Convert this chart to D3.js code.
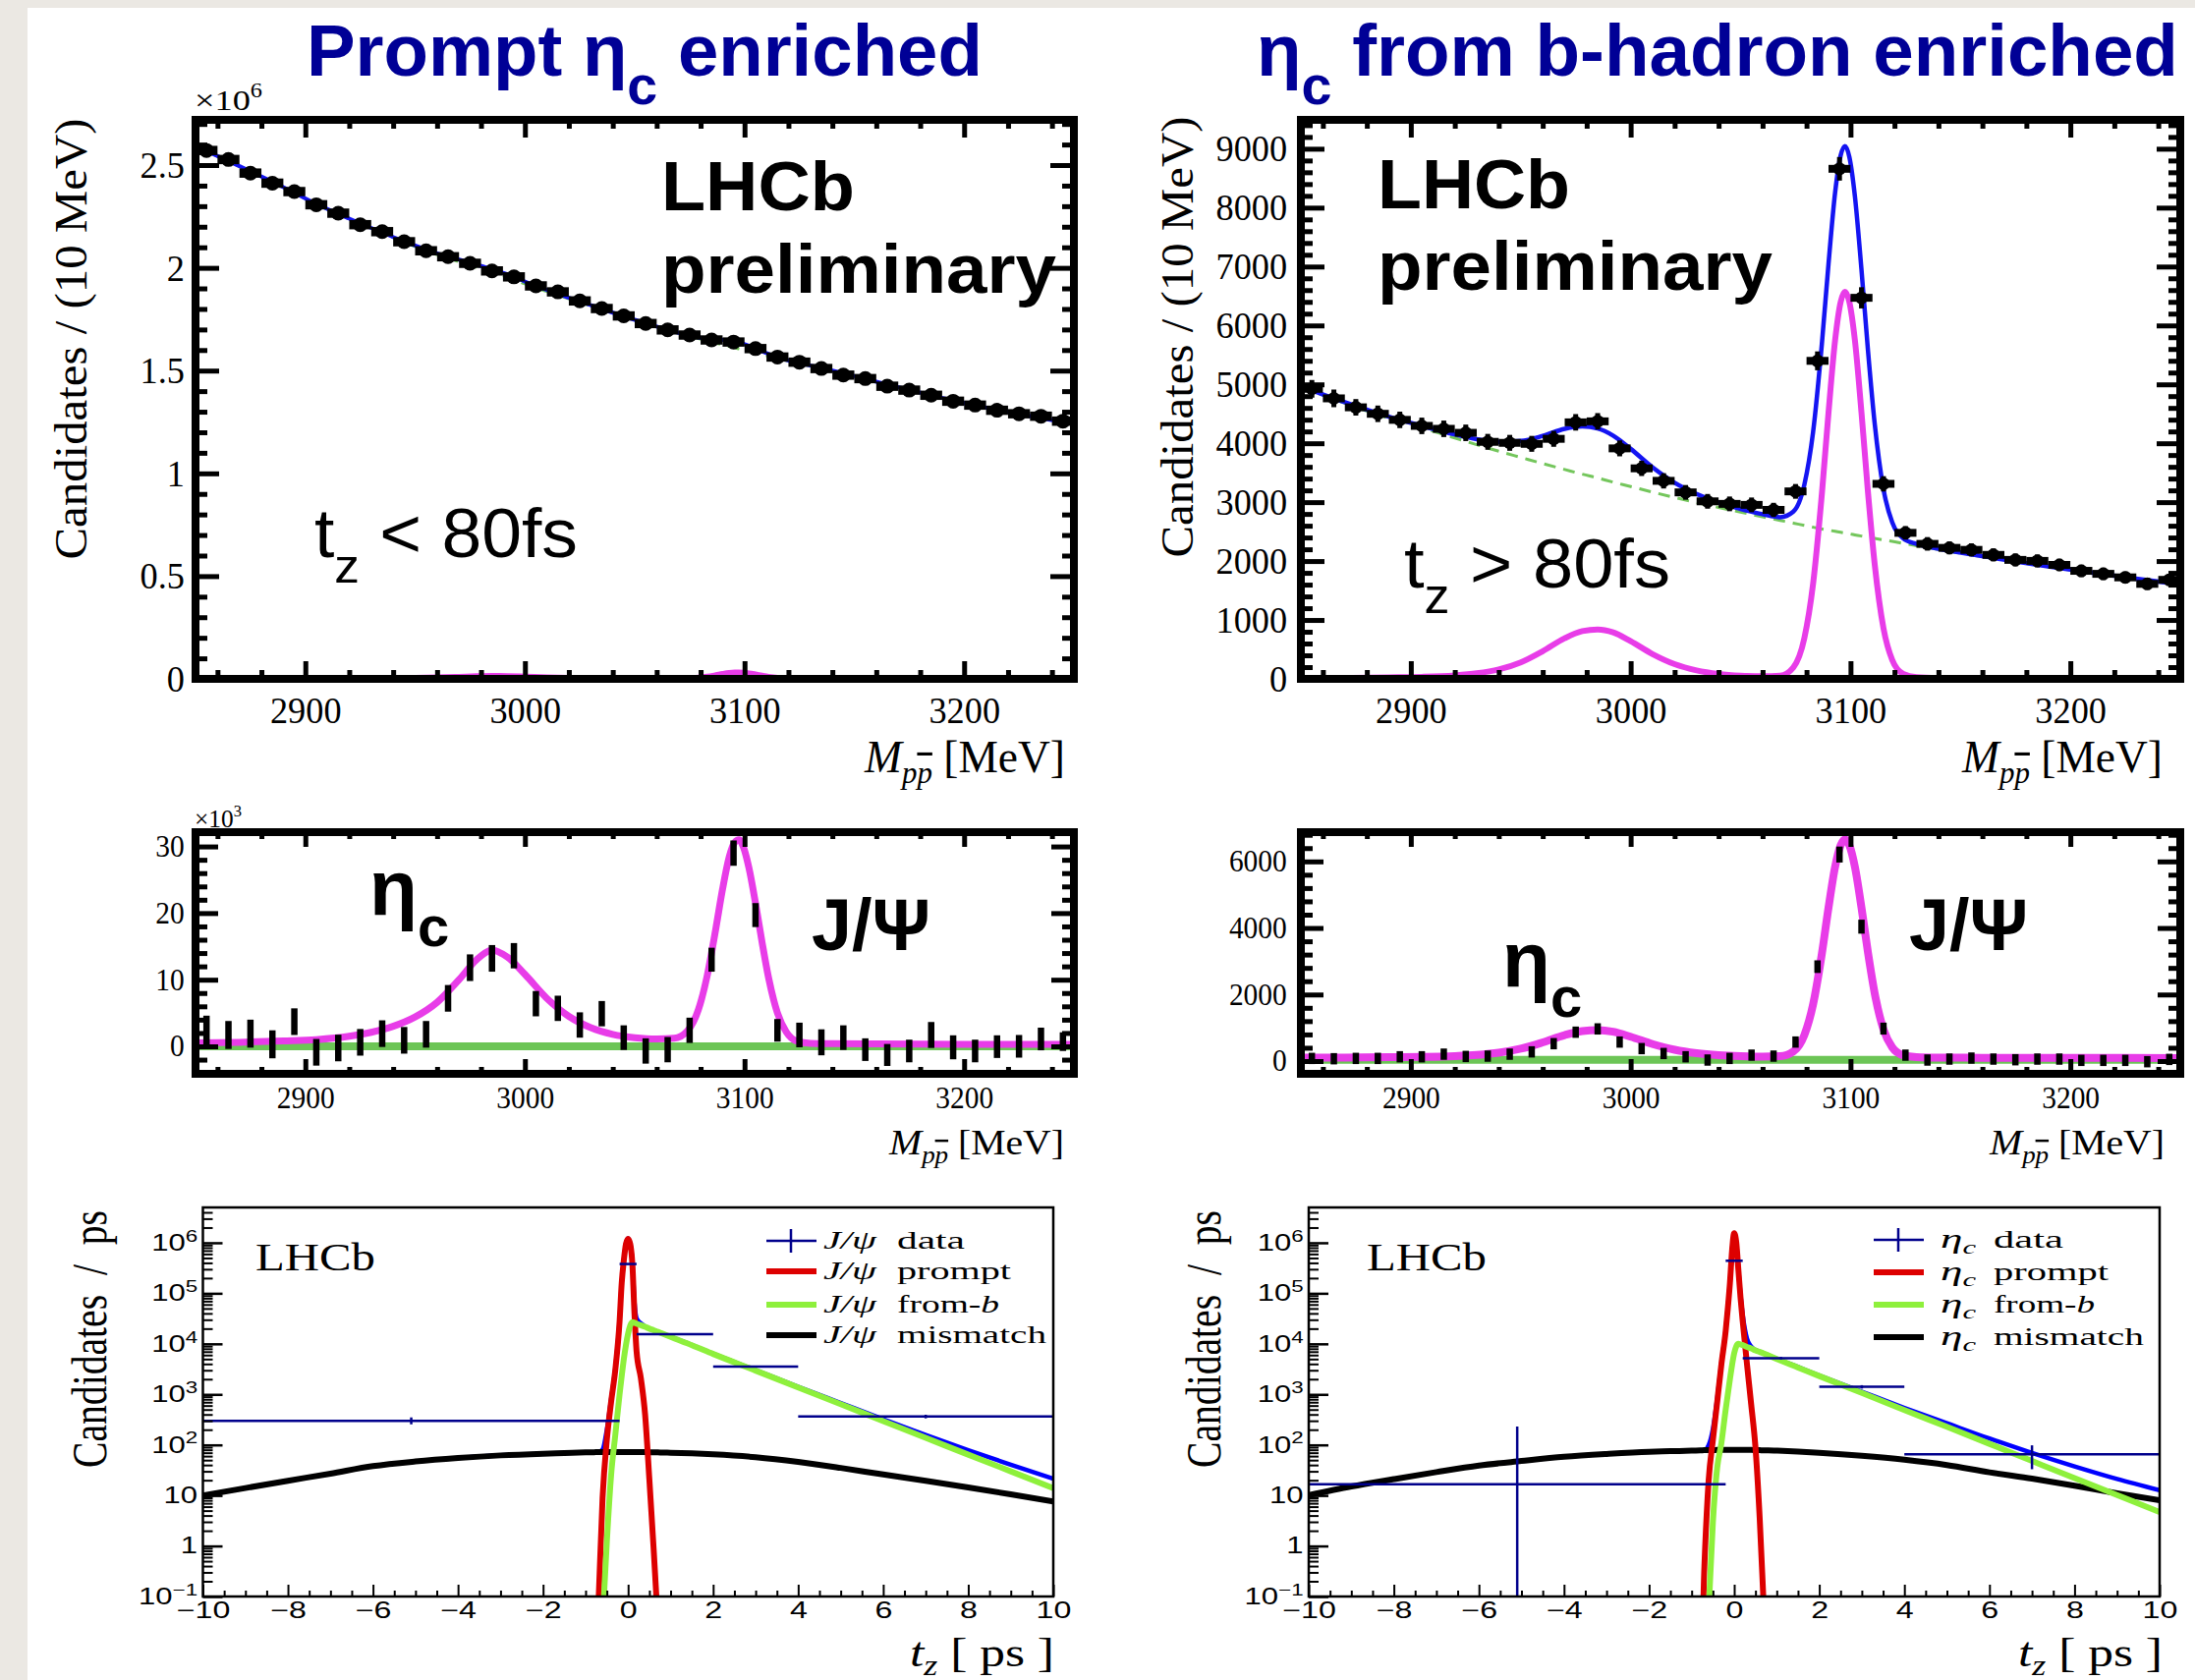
<!DOCTYPE html>
<html>
<head>
<meta charset="utf-8">
<script src="https://cdn.jsdelivr.net/npm/d3@7"></script>
<style>
  html, body { margin: 0; padding: 0; background: #ffffff; }
  svg { display: block; }
</style>
</head>
<body>
<svg id="chart" width="2234" height="1710"></svg>
<script>
// ===================== DATA =====================

// p-pbar invariant mass, 10 MeV bin centres
const massCenters = [2855, 2865, 2875, 2885, 2895, 2905, 2915, 2925, 2935, 2945,
  2955, 2965, 2975, 2985, 2995, 3005, 3015, 3025, 3035, 3045,
  3055, 3065, 3075, 3085, 3095, 3105, 3115, 3125, 3135, 3145,
  3155, 3165, 3175, 3185, 3195, 3205, 3215, 3225, 3235, 3245];

// prompt-enriched sample (t_z < 80 fs), candidates ×10^6
const promptCounts = [2.571, 2.527, 2.461, 2.412, 2.371, 2.307, 2.266, 2.210, 2.176, 2.127,
  2.083, 2.054, 2.022, 1.985, 1.956, 1.912, 1.883, 1.839, 1.802, 1.766,
  1.729, 1.698, 1.673, 1.649, 1.639, 1.607, 1.566, 1.541, 1.510, 1.478,
  1.461, 1.424, 1.405, 1.380, 1.351, 1.332, 1.307, 1.290, 1.278, 1.254];

// b-hadron-enriched sample (t_z > 80 fs), candidates
const fromBCounts = [4924, 4762, 4610, 4500, 4397, 4295, 4245, 4177, 4024, 4007,
  3990, 4075, 4355, 4372, 3913, 3574, 3362, 3166, 3014, 2971,
  2954, 2869, 3183, 5399, 8659, 6469, 3311, 2479, 2292, 2224,
  2190, 2105, 2020, 2003, 1935, 1834, 1783, 1723, 1613, 1681];
const fromBErrors = [150, 150, 140, 140, 140, 140, 140, 140, 135, 135,
  135, 135, 140, 140, 135, 130, 130, 125, 125, 125,
  125, 120, 125, 160, 200, 180, 130, 115, 115, 110,
  110, 110, 110, 110, 105, 105, 105, 100, 100, 100];

// background-subtracted yields, prompt sample (×10^3)
const promptSigData = [2.2, 1.7, 1.9, 0.3, 3.7, -0.9, -0.25, 0.6, 1.9, 0.9,
  1.8, 7.2, 11.8, 13.2, 13.6, 6.4, 5.7, 3.2, 4.9, 1.3,
  -0.7, -0.5, 2.4, 13.0, 29.0, 19.7, 2.4, 1.7, 0.6, 1.3,
  -0.5, -1.3, -0.7, 1.7, -0.15, -0.7, -0.05, 0.0, 1.1, 0.7];
const promptSigErr = [2.4, 2.1, 2.1, 2.1, 2.0, 2.0, 2.0, 2.0, 2.0, 2.0,
  2.0, 2.0, 2.0, 2.0, 1.9, 1.9, 1.9, 1.9, 1.9, 1.85,
  1.9, 1.9, 1.9, 1.8, 1.9, 1.8, 1.7, 1.85, 1.95, 1.85,
  1.7, 1.65, 1.7, 1.95, 1.8, 1.7, 1.7, 1.7, 1.7, 1.4];

// background-subtracted yields, b-hadron sample
const fromBSigData = [79, 69, 79, 79, 128, 128, 207, 138, 148, 207,
  276, 522, 867, 966, 571, 374, 227, 128, 30, 79,
  177, 148, 571, 2837, 6207, 4039, 975, 177, 30, 59,
  89, 59, 39, 59, 59, 20, 20, 20, -20, 49];
const fromBSigErr = [170, 170, 170, 170, 170, 170, 170, 170, 170, 170,
  170, 170, 170, 170, 170, 170, 170, 170, 170, 170,
  170, 170, 170, 190, 240, 210, 180, 170, 170, 170,
  170, 170, 170, 170, 170, 170, 170, 170, 170, 170];

// fit model sampled along the mass axis
const massGrid = [2850, 2870, 2890, 2905, 2920, 2930, 2940, 2950, 2960, 2970,
  2978, 2985, 2992, 3000, 3010, 3020, 3030, 3040, 3050, 3060,
  3068, 3074, 3079, 3083, 3087, 3090, 3093, 3095.5, 3097.5, 3099.5,
  3102, 3105, 3108, 3111, 3115, 3119, 3124, 3130, 3140, 3160, 3200, 3250];
// prompt sample combinatorial background (×10^6)
const promptBkgFit = [2.592, 2.494, 2.392, 2.310, 2.238, 2.192, 2.147, 2.104, 2.064, 2.030,
  2.003, 1.978, 1.955, 1.922, 1.885, 1.850, 1.815, 1.780, 1.746, 1.713,
  1.688, 1.670, 1.656, 1.645, 1.634, 1.626, 1.618, 1.611, 1.606, 1.601,
  1.594, 1.586, 1.578, 1.570, 1.560, 1.550, 1.538, 1.524, 1.500, 1.446, 1.342, 1.240];
// prompt sample eta_c + J/psi signal (×10^3)
const promptSigFit = [0.5, 0.6, 0.8, 1.0, 1.5, 2.1, 3.0, 4.4, 6.6, 10.0,
  13.0, 14.4, 13.4, 10.8, 7.2, 4.5, 2.8, 1.8, 1.3, 1.1,
  1.2, 2.3, 5.5, 10.6, 17.8, 23.6, 28.4, 30.6, 31.0, 29.9,
  26.8, 21.5, 15.6, 10.2, 5.0, 2.15, 0.75, 0.45, 0.4, 0.35, 0.3, 0.3];
// b-hadron sample background and signal
const fromBBkgFit = [4960, 4680, 4425, 4260, 4090, 3975, 3865, 3760, 3655, 3555,
  3475, 3410, 3340, 3265, 3170, 3080, 2995, 2910, 2830, 2750,
  2690, 2645, 2605, 2575, 2545, 2525, 2505, 2488, 2475, 2462,
  2445, 2425, 2405, 2385, 2360, 2335, 2300, 2260, 2195, 2075, 1850, 1600];
const fromBSigFit = [10, 15, 25, 35, 60, 95, 160, 280, 470, 690,
  810, 840, 790, 640, 420, 250, 145, 85, 55, 45,
  55, 195, 690, 1620, 3150, 4520, 5750, 6395, 6570, 6395,
  5750, 4520, 3150, 1950, 860, 320, 85, 30, 15, 8, 4, 2];
const fromBResidual = 90;   // residual level under the b-hadron sWeighted fit
const fromBResidualLine = 40;

// pseudo decay time t_z [ps] model components
const tGrid = [-10, -9, -8, -7, -6, -5, -4, -3, -2, -1.5, -1,
  -0.8, -0.7, -0.6, -0.5, -0.4, -0.3, -0.2, -0.15, -0.1, -0.05, 0,
  0.05, 0.1, 0.15, 0.2, 0.3, 0.4, 0.5, 0.6, 0.7, 0.8,
  1, 1.5, 2, 3, 4, 5, 6, 7, 8, 9, 10];
const jpsiPrompt = [0, 0, 0, 0, 0, 0, 0, 0, 0, 0, 0,
  0.001, 0.06, 9, 126, 700, 3100, 2.8e4, 1.6e5, 4.5e5, 9.5e5, 1.2e6,
  9.5e5, 3.9e5, 4e4, 7000, 2100, 400, 21, 0.9, 0.03, 0.001,
  0, 0, 0, 0, 0, 0, 0, 0, 0, 0, 0];
const jpsiFromB = [0, 0, 0, 0, 0, 0, 0, 0, 0, 0, 0,
  0, 0, 0.03, 1.2, 25, 160, 1000, 2300, 5000, 9500, 1.6e4,
  2.3e4, 2.7e4, 2.63e4, 2.5e4, 2.34e4, 2.17e4, 2.0e4, 1.86e4, 1.73e4, 1.6e4,
  1.37e4, 9400, 6300, 2950, 1370, 640, 296, 138, 64, 30, 13.9];
const jpsiMismatch = [10, 14, 19.5, 27, 38, 47, 55, 62, 67, 69, 71,
  71.5, 72, 72, 72, 72, 72, 72, 72, 72, 72, 72,
  72, 72, 72, 72, 72, 71.8, 71.5, 71.2, 71, 70.5,
  70, 68, 65, 57, 46, 35, 26, 19.5, 14.4, 10.5, 7.6];
const etacPrompt = [0, 0, 0, 0, 0, 0, 0, 0, 0, 0, 0,
  0.001, 0.4, 20, 126, 700, 4000, 1.8e4, 5e4, 1.6e5, 7e5, 1.55e6,
  1e6, 2.8e5, 8e4, 2.8e4, 4000, 630, 90, 3.5, 0.05, 0.001,
  0, 0, 0, 0, 0, 0, 0, 0, 0, 0, 0];
const etacFromB = [0, 0, 0, 0, 0, 0, 0, 0, 0, 0, 0,
  0, 0, 0.05, 3, 35, 110, 500, 1000, 2000, 3800, 6500,
  9000, 1e4, 9700, 9400, 8700, 8100, 7400, 6900, 6400, 5900,
  5000, 3400, 2300, 1070, 490, 228, 105, 48, 22, 10.2, 4.7];
const etacMismatch = [10.1, 15, 21, 29, 39, 48, 58, 66, 73, 75, 77,
  78, 78.5, 79, 79, 79.5, 79.5, 80, 80, 80, 80, 80,
  80, 80, 80, 80, 79.5, 79.5, 79, 78.5, 78, 78,
  77, 74, 70, 61, 51, 40, 28.6, 21.5, 15.6, 11, 8];

// t_z data bins
const tBinLo = [-10, -0.2, 0.2, 2, 4];
const tBinHi = [-0.2, 0.2, 2, 4, 10];
const jpsiTData = [300, 3.8e5, 1.56e4, 3550, 365];
const jpsiTLo = [255, 3.7e5, 1.52e4, 3400, 335];
const jpsiTHi = [350, 3.9e5, 1.6e4, 3700, 395];
const etacTData = [16.6, 4.4e5, 5200, 1410, 65];
const etacTLo = [0.001, 4.3e5, 4900, 1300, 33];
const etacTHi = [230, 4.5e5, 5500, 1520, 98];

// axis tick values
const massTicks = [2900, 3000, 3100, 3200];
const promptYTicks = [0, 0.5, 1, 1.5, 2, 2.5];
const fromBYTicks = [0, 1000, 2000, 3000, 4000, 5000, 6000, 7000, 8000, 9000];
const promptSigTicks = [0, 10, 20, 30];
const fromBSigTicks = [0, 2000, 4000, 6000];
const tzTicks = [-10, -8, -6, -4, -2, 0, 2, 4, 6, 8, 10];
const logTicks = [0.1, 1, 10, 100, 1e3, 1e4, 1e5, 1e6];

// legend entries
const legendWords = ['data', 'prompt', 'from-', 'mismatch'];

// ===================== STYLE =====================
const SERIF = "'Liberation Serif','Times New Roman',Times,serif";
const SANS = "'Liberation Sans',Arial,Helvetica,sans-serif";
const TITLE_BLUE = '#000096';
const MAGENTA = '#e83ce8';
const FIT_BLUE = '#1414f2';
const GREEN_DASH = '#74c65c';
const GREEN_RES = '#6cc556';
const RED = '#dd0000';
const LIME = '#8ef03c';
const NAVY = '#00008c';

const svg = d3.select('#chart');

// page: grey slide margin on the left and top
svg.append('rect').attr('width', 2234).attr('height', 1710).attr('fill', '#ebe8e3');
svg.append('rect').attr('x', 28).attr('y', 8).attr('width', 2206).attr('height', 1702).attr('fill', '#ffffff');

// ===================== HELPERS =====================
function txt(parent, x, y, opt, build) {
  const g = parent.append('g')
    .attr('transform', `translate(${x},${y})` + (opt.rotate ? ` rotate(${opt.rotate})` : ''));
  const t = g.append('text')
    .attr('font-family', opt.family || SERIF)
    .attr('font-size', opt.size)
    .attr('font-weight', opt.weight || 400)
    .attr('font-style', opt.italic ? 'italic' : 'normal')
    .attr('fill', opt.fill || '#000')
    .attr('text-anchor', opt.anchor || 'start')
    .style('white-space', 'pre');
  if (typeof build === 'function') build(t); else t.text(build);
  if (opt.width) {
    const w = t.node().getComputedTextLength();
    if (w > 0) t.attr('transform', `scale(${opt.width / w},1)`);
  } else if (opt.sx) {
    t.attr('transform', `scale(${opt.sx},1)`);
  }
  return t;
}

let clipCount = 0;
function clipped(x0, x1, y0, y1) {
  const id = 'frameclip' + (clipCount++);
  svg.append('clipPath').attr('id', id)
    .append('rect').attr('x', x0).attr('y', y0).attr('width', x1 - x0).attr('height', y1 - y0);
  return svg.append('g').attr('clip-path', `url(#${id})`);
}

function axis(parent, gen, pos, vals, len, sw, fmt, pad) {
  const a = gen.tickValues(vals).tickSizeInner(-len).tickSizeOuter(0)
    .tickPadding(pad || 0).tickFormat(fmt || (() => ''));
  const g = parent.append('g').attr('transform', pos).call(a);
  g.select('.domain').remove();
  g.selectAll('.tick line').attr('stroke', '#000').attr('stroke-width', sw);
  return g;
}

// ROOT-style frame with inward ticks on all four sides
function massFrame(x, y, o) {
  const [x0, x1] = x.range();
  const [yb, yt] = y.range();
  const minorX = d3.range(2860, 3250, 20).filter(v => v % 100 !== 0);
  const g = svg.append('g');
  const gb = axis(g, d3.axisBottom(x), `translate(0,${yb})`, massTicks, o.xMaj, 5, d => String(d), o.xPad);
  gb.selectAll('.tick text').attr('font-family', SERIF).attr('font-size', o.font)
    .attr('fill', '#000').attr('transform', `scale(${o.sx},1)`);
  axis(g, d3.axisBottom(x), `translate(0,${yb})`, minorX, o.xMin, 5);
  axis(g, d3.axisTop(x), `translate(0,${yt})`, massTicks, o.xMaj, 5);
  axis(g, d3.axisTop(x), `translate(0,${yt})`, minorX, o.xMin, 5);
  const gl = axis(g, d3.axisLeft(y), `translate(${x0},0)`, o.yTicks, o.yMaj, 5, d => String(d), o.yPad);
  gl.selectAll('.tick text').attr('font-family', SERIF).attr('font-size', o.font)
    .attr('fill', '#000').attr('transform', `scale(${o.sx},1)`);
  axis(g, d3.axisLeft(y), `translate(${x0},0)`, o.yMinor, o.yMin, 5);
  axis(g, d3.axisRight(y), `translate(${x1},0)`, o.yTicks, o.yMaj, 5);
  axis(g, d3.axisRight(y), `translate(${x1},0)`, o.yMinor, o.yMin, 5);
  g.append('rect').attr('x', x0).attr('y', yt).attr('width', x1 - x0).attr('height', yb - yt)
    .attr('fill', 'none').attr('stroke', '#000').attr('stroke-width', 8);
}

function massLabel(xEnd, yBase, size, width) {
  txt(svg, xEnd, yBase, { family: SERIF, size: size, anchor: 'end', width: width }, t => {
    t.append('tspan').attr('font-style', 'italic').text('M');
    t.append('tspan').attr('font-style', 'italic').attr('font-size', size * 0.68).attr('dy', size * 0.24).text('p');
    t.append('tspan').attr('font-style', 'italic').attr('font-size', size * 0.68)
      .style('text-decoration', 'overline').text('p');
    t.append('tspan').attr('dy', -size * 0.24).text(' [MeV]');
  });
}

const massLine = (x, y, vals) => d3.line()
  .x((d, i) => x(massGrid[i])).y(d => y(d)).curve(d3.curveMonotoneX)(vals);

// ===================== TITLES =====================
txt(svg, 312, 77, { family: SANS, size: 75, weight: 700, fill: TITLE_BLUE, width: 688 }, t => {
  t.append('tspan').text('Prompt ');
  t.append('tspan').text('η');
  t.append('tspan').attr('dy', 29).attr('font-size', 56).text('c');
  t.append('tspan').attr('dy', -29).text(' enriched');
});
txt(svg, 1279, 77, { family: SANS, size: 75, weight: 700, fill: TITLE_BLUE, width: 938 }, t => {
  t.append('tspan').text('η');
  t.append('tspan').attr('dy', 29).attr('font-size', 56).text('c');
  t.append('tspan').attr('dy', -29).text(' from b-hadron enriched');
});

// ===================== PANEL A: prompt mass spectrum =====================
{
  const x = d3.scaleLinear().domain([2850, 3250]).range([199, 1093]);
  const y = d3.scaleLinear().domain([0, 2.72]).range([691, 122]);
  const g = clipped(199, 1093, 122, 691);
  g.append('path').attr('d', massLine(x, y, promptBkgFit))
    .attr('fill', 'none').attr('stroke', GREEN_DASH).attr('stroke-width', 3).attr('stroke-dasharray', '12,8');
  g.append('path').attr('d', massLine(x, y, promptBkgFit.map((b, i) => b + promptSigFit[i] / 1000)))
    .attr('fill', 'none').attr('stroke', FIT_BLUE).attr('stroke-width', 4);
  g.append('path').attr('d', massLine(x, y, promptSigFit.map(v => v / 1000)))
    .attr('fill', 'none').attr('stroke', MAGENTA).attr('stroke-width', 6);
  const pts = g.append('g');
  massCenters.forEach((m, i) => {
    pts.append('line').attr('x1', x(m - 5)).attr('x2', x(m + 5))
      .attr('y1', y(promptCounts[i])).attr('y2', y(promptCounts[i]))
      .attr('stroke', '#000').attr('stroke-width', 9.5);
    pts.append('circle').attr('cx', x(m)).attr('cy', y(promptCounts[i])).attr('r', 7.5).attr('fill', '#000');
  });
  massFrame(x, y, {
    font: 39, sx: 0.93, xPad: 17, yPad: 12, xMaj: 18, xMin: 9, yMaj: 24, yMin: 12,
    yTicks: promptYTicks, yMinor: d3.range(0.1, 2.72, 0.1).filter(v => Math.abs(v * 2 - Math.round(v * 2)) > 1e-6)
  });
  txt(svg, 198, 112, { family: SERIF, size: 30, width: 69 }, t => {
    t.append('tspan').text('×10');
    t.append('tspan').attr('font-size', 20).attr('dy', -13).text('6');
  });
  txt(svg, 88, 345, { family: SERIF, size: 46, rotate: -90, anchor: 'middle', width: 449 }, 'Candidates / (10 MeV)');
  massLabel(1084, 786, 46, 204);
  txt(svg, 673, 214, { family: SANS, size: 71, weight: 700, width: 197 }, 'LHCb');
  txt(svg, 673, 298, { family: SANS, size: 71, weight: 700, width: 402 }, 'preliminary');
  txt(svg, 320, 567, { family: SANS, size: 70, width: 268 }, t => {
    t.append('tspan').text('t');
    t.append('tspan').attr('font-size', 49).attr('dy', 26).text('z');
    t.append('tspan').attr('dy', -26).text(' < 80fs');
  });
}

// ===================== PANEL B: b-hadron mass spectrum =====================
{
  const x = d3.scaleLinear().domain([2850, 3250]).range([1324, 2219]);
  const y = d3.scaleLinear().domain([0, 9490]).range([691, 122]);
  const g = clipped(1324, 2219, 122, 691);
  g.append('path').attr('d', massLine(x, y, fromBBkgFit))
    .attr('fill', 'none').attr('stroke', GREEN_DASH).attr('stroke-width', 3).attr('stroke-dasharray', '12,8');
  g.append('path').attr('d', massLine(x, y, fromBSigFit))
    .attr('fill', 'none').attr('stroke', MAGENTA).attr('stroke-width', 6);
  g.append('path').attr('d', massLine(x, y, fromBBkgFit.map((b, i) => b + fromBSigFit[i])))
    .attr('fill', 'none').attr('stroke', FIT_BLUE).attr('stroke-width', 4.5);
  const pts = g.append('g');
  massCenters.forEach((m, i) => {
    const v = fromBCounts[i], e = fromBErrors[i];
    pts.append('line').attr('x1', x(m)).attr('x2', x(m)).attr('y1', y(v - e)).attr('y2', y(v + e))
      .attr('stroke', '#000').attr('stroke-width', 5);
    pts.append('line').attr('x1', x(m - 5)).attr('x2', x(m + 5)).attr('y1', y(v)).attr('y2', y(v))
      .attr('stroke', '#000').attr('stroke-width', 8);
    pts.append('circle').attr('cx', x(m)).attr('cy', y(v)).attr('r', 6.5).attr('fill', '#000');
  });
  massFrame(x, y, {
    font: 39, sx: 0.93, xPad: 17, yPad: 15, xMaj: 18, xMin: 9, yMaj: 24, yMin: 12,
    yTicks: fromBYTicks, yMinor: d3.range(200, 9490, 200).filter(v => v % 1000 !== 0)
  });
  txt(svg, 1214, 343, { family: SERIF, size: 46, rotate: -90, anchor: 'middle', width: 449 }, 'Candidates / (10 MeV)');
  massLabel(2201, 786, 46, 204);
  txt(svg, 1402, 212, { family: SANS, size: 71, weight: 700, width: 196 }, 'LHCb');
  txt(svg, 1402, 295, { family: SANS, size: 71, weight: 700, width: 402 }, 'preliminary');
  txt(svg, 1429, 598, { family: SANS, size: 70, width: 271 }, t => {
    t.append('tspan').text('t');
    t.append('tspan').attr('font-size', 49).attr('dy', 26).text('z');
    t.append('tspan').attr('dy', -26).text(' > 80fs');
  });
}

// ===================== PANEL C: prompt background-subtracted =====================
{
  const x = d3.scaleLinear().domain([2850, 3250]).range([199, 1093]);
  const y = d3.scaleLinear().domain([-4.13, 32.15]).range([1093, 847]);
  const g = clipped(199, 1093, 847, 1093);
  g.append('line').attr('x1', x(2850)).attr('x2', x(3250)).attr('y1', y(0)).attr('y2', y(0))
    .attr('stroke', GREEN_RES).attr('stroke-width', 8);
  g.append('path').attr('d', massLine(x, y, promptSigFit))
    .attr('fill', 'none').attr('stroke', MAGENTA).attr('stroke-width', 7);
  massCenters.forEach((m, i) => {
    g.append('line').attr('x1', x(m)).attr('x2', x(m))
      .attr('y1', y(promptSigData[i] - promptSigErr[i])).attr('y2', y(promptSigData[i] + promptSigErr[i]))
      .attr('stroke', '#000').attr('stroke-width', 6.5);
  });
  massFrame(x, y, {
    font: 31, sx: 0.95, xPad: 13, yPad: 12, xMaj: 15, xMin: 7, yMaj: 23, yMin: 12,
    yTicks: promptSigTicks, yMinor: [-4, -2, 2, 4, 6, 8, 12, 14, 16, 18, 22, 24, 26, 28, 32]
  });
  txt(svg, 198, 842, { family: SERIF, size: 26, width: 48 }, t => {
    t.append('tspan').text('×10');
    t.append('tspan').attr('font-size', 17).attr('dy', -11).text('3');
  });
  massLabel(1083, 1175, 36, 178);
  txt(svg, 376, 931, { family: SANS, size: 80, weight: 700 }, t => {
    t.append('tspan').text('η');
    t.append('tspan').attr('font-size', 58).attr('dy', 32).text('c');
  });
  txt(svg, 826, 967, { family: SANS, size: 75, weight: 700, width: 121 }, 'J/Ψ');
}

// ===================== PANEL D: b-hadron background-subtracted =====================
{
  const x = d3.scaleLinear().domain([2850, 3250]).range([1324, 2219]);
  const y = d3.scaleLinear().domain([-384, 6880]).range([1093, 847]);
  const g = clipped(1324, 2219, 847, 1093);
  g.append('line').attr('x1', x(2850)).attr('x2', x(3250))
    .attr('y1', y(fromBResidualLine)).attr('y2', y(fromBResidualLine))
    .attr('stroke', GREEN_RES).attr('stroke-width', 8);
  g.append('path').attr('d', massLine(x, y, fromBSigFit.map(v => v + fromBResidual)))
    .attr('fill', 'none').attr('stroke', MAGENTA).attr('stroke-width', 8);
  massCenters.forEach((m, i) => {
    g.append('line').attr('x1', x(m)).attr('x2', x(m))
      .attr('y1', y(fromBSigData[i] - fromBSigErr[i])).attr('y2', y(fromBSigData[i] + fromBSigErr[i]))
      .attr('stroke', '#000').attr('stroke-width', 6.5);
  });
  massFrame(x, y, {
    font: 31, sx: 0.95, xPad: 13, yPad: 15, xMaj: 15, xMin: 7, yMaj: 23, yMin: 12,
    yTicks: fromBSigTicks, yMinor: d3.range(-0, 6880, 400).filter(v => v % 2000 !== 0)
  });
  massLabel(2203, 1175, 36, 178);
  txt(svg, 1529, 1004, { family: SANS, size: 80, weight: 700 }, t => {
    t.append('tspan').text('η');
    t.append('tspan').attr('font-size', 58).attr('dy', 31).text('c');
  });
  txt(svg, 1943, 967, { family: SANS, size: 75, weight: 700, width: 121 }, 'J/Ψ');
}

// ===================== PANELS E, F: decay-time fits =====================
function tzPanel(o) {
  const x = d3.scaleLinear().domain([-10, 10]).range([o.x0, o.x1]);
  const y = d3.scaleLog().domain([0.1, 5e6]).range([1625, 1229]);
  const tLine = vals => d3.line().x((d, i) => x(tGrid[i])).y(d => y(Math.max(d, 1e-3)))
    .curve(d3.curveMonotoneX)(vals);
  const g = clipped(o.x0, o.x1, 1229, 1625);
  const total = o.prompt.map((v, i) => v + o.fromB[i] + o.mismatch[i]);
  g.append('path').attr('d', tLine(total)).attr('fill', 'none').attr('stroke', '#0000ff').attr('stroke-width', 4.5);
  g.append('path').attr('d', tLine(o.mismatch)).attr('fill', 'none').attr('stroke', '#000').attr('stroke-width', 6);
  g.append('path').attr('d', tLine(o.prompt)).attr('fill', 'none').attr('stroke', RED).attr('stroke-width', 6);
  g.append('path').attr('d', tLine(o.fromB)).attr('fill', 'none').attr('stroke', LIME).attr('stroke-width', 6);
  // data
  tBinLo.forEach((lo, i) => {
    const c = (lo + tBinHi[i]) / 2;
    g.append('line').attr('x1', x(lo)).attr('x2', x(tBinHi[i]))
      .attr('y1', y(o.data[i])).attr('y2', y(o.data[i]))
      .attr('stroke', NAVY).attr('stroke-width', 2.5);
    g.append('line').attr('x1', x(c)).attr('x2', x(c))
      .attr('y1', y(o.lo[i])).attr('y2', y(o.hi[i]))
      .attr('stroke', NAVY).attr('stroke-width', 2.5);
  });
  // axes: ticks on bottom and left
  const ax = svg.append('g');
  const gb = axis(ax, d3.axisBottom(x), 'translate(0,1625)', tzTicks, 12, 2,
    d => d < 0 ? '−' + Math.abs(d) : String(d), 6);
  gb.selectAll('.tick text').attr('font-family', SANS).attr('font-size', 23).attr('fill', '#000')
    .attr('transform', 'scale(1.4,1)');
  axis(ax, d3.axisBottom(x), 'translate(0,1625)', d3.range(-9.5, 10, 0.5).filter(v => v % 2 !== 0), 6, 2);
  const gl = axis(ax, d3.axisLeft(y), `translate(${o.x0},0)`, logTicks, 20, 2.5, d => String(d), 4);
  gl.selectAll('.tick text').attr('font-family', SANS).attr('font-size', 23).attr('fill', '#000')
    .attr('transform', 'scale(1.35,1)')
    .each(function (d) {
      const t = d3.select(this);
      const e = Math.round(Math.log10(d));
      t.text(null);
      if (e === 0) t.text('1');
      else if (e === 1) t.text('10');
      else {
        t.append('tspan').text('10');
        t.append('tspan').attr('dy', '-0.55em').attr('font-size', '0.72em').text(e < 0 ? '−' + (-e) : String(e));
      }
    });
  const minorY = [];
  for (let e = -1; e <= 6; e++) for (let k = 2; k <= 9; k++) if (k * Math.pow(10, e) < 5e6) minorY.push(k * Math.pow(10, e));
  axis(ax, d3.axisLeft(y), `translate(${o.x0},0)`, minorY, 10, 2);
  ax.append('rect').attr('x', o.x0).attr('y', 1229).attr('width', o.x1 - o.x0).attr('height', 396)
    .attr('fill', 'none').attr('stroke', '#000').attr('stroke-width', 2.5);

  txt(svg, o.lhcbX, 1293, { family: SERIF, size: 40, width: 122 }, 'LHCb');
  txt(svg, o.yLabX, 1363, { family: SERIF, size: 50, rotate: -90, anchor: 'middle', width: 262 }, 'Candidates  /  ps');
  txt(svg, o.xLabX, 1696, { family: SERIF, size: 43, width: 147 }, t => {
    t.append('tspan').attr('font-style', 'italic').text('t');
    t.append('tspan').attr('font-style', 'italic').attr('font-size', 30).attr('dy', 9).text('z');
    t.append('tspan').attr('dy', -9).text(' [ ps ]');
  });

  // legend
  const colours = [NAVY, RED, LIME, '#000'];
  o.legRows.forEach((ry, i) => {
    svg.append('line').attr('x1', o.legX).attr('x2', o.legX + 51).attr('y1', ry).attr('y2', ry)
      .attr('stroke', colours[i]).attr('stroke-width', i === 0 ? 2.5 : 6);
    if (i === 0) {
      svg.append('line').attr('x1', o.legX + 25).attr('x2', o.legX + 25).attr('y1', ry - 12).attr('y2', ry + 12)
        .attr('stroke', NAVY).attr('stroke-width', 2.5);
    }
    o.legSymbol(o.legTextX, ry + 8);
    const word = legendWords[i];
    txt(svg, o.legWordX, ry + 8, { family: SERIF, size: 26, width: o.legWordW[i] }, t => {
      t.append('tspan').text(word);
      if (word === 'from-') t.append('tspan').attr('font-style', 'italic').text('b');
    });
  });
}

tzPanel({
  x0: 206.5, x1: 1072, prompt: jpsiPrompt, fromB: jpsiFromB, mismatch: jpsiMismatch,
  data: jpsiTData, lo: jpsiTLo, hi: jpsiTHi, lhcbX: 260, yLabX: 108, xLabX: 926,
  legX: 780, legRows: [1263, 1294, 1328, 1359], legTextX: 838, legWordX: 913,
  legWordW: [69, 116, 104, 152],
  legSymbol: (lx, ly) => txt(svg, lx, ly, { family: SERIF, size: 26, italic: true, width: 54 }, 'J/ψ')
});
tzPanel({
  x0: 1332, x1: 2198, prompt: etacPrompt, fromB: etacFromB, mismatch: etacMismatch,
  data: etacTData, lo: etacTLo, hi: etacTHi, lhcbX: 1391, yLabX: 1242, xLabX: 2054,
  legX: 1907, legRows: [1262, 1295, 1328, 1361], legTextX: 1975, legWordX: 2029,
  legWordW: [71, 117, 103, 153],
  legSymbol: (lx, ly) => txt(svg, lx, ly, { family: SERIF, size: 28, italic: true, width: 36 }, t => {
    t.append('tspan').text('η');
    t.append('tspan').attr('font-size', 19).attr('dy', 6).text('c');
  })
});
</script>
</body>
</html>
